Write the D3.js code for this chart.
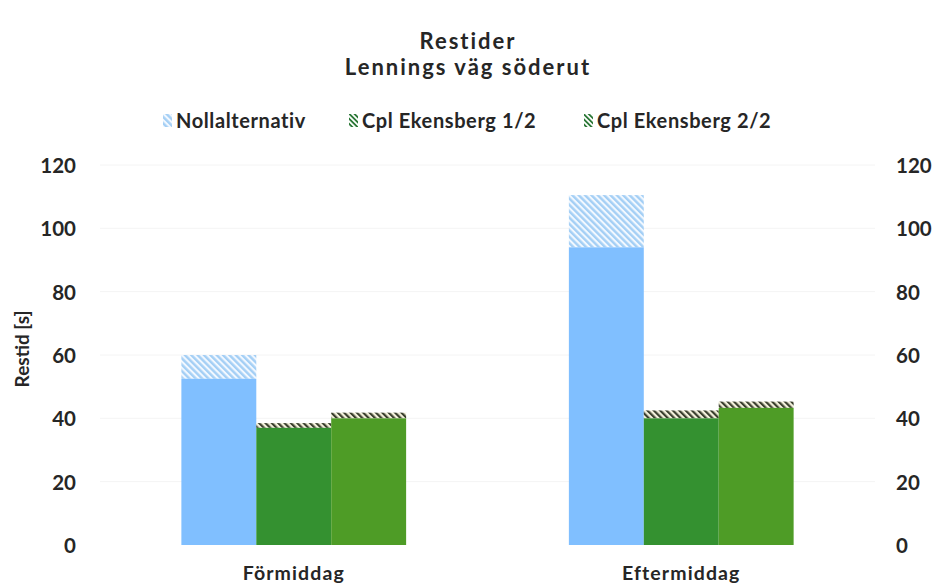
<!DOCTYPE html>
<html><head><meta charset="utf-8">
<script src="https://cdn.jsdelivr.net/npm/d3@7"></script>
<style>body{margin:0;background:#fff;} text{font-family:Lato,"Open Sans",sans-serif;font-weight:700;fill:#262626;}</style>
</head><body>
<svg id="c" width="936" height="587"></svg>
<script>
const categories = ["Förmiddag", "Eftermiddag"];
const seriesNames = ["Nollalternativ", "Cpl Ekensberg 1/2", "Cpl Ekensberg 2/2"];
const baseValues = [[52.5, 94], [37, 40], [40, 43.3]];
const totalValues = [[60, 110.5], [38.5, 42.5], [41.8, 45.3]];
const yTicks = [0, 20, 40, 60, 80, 100, 120];
const colors = ["#80bfff", "#349130", "#4e9c26"];

const svg = d3.select("#c");
const y = d3.scaleLinear().domain([0, 120]).range([545, 165]);
const x0 = d3.scaleBand().domain(categories).range([100, 875]);
const bw = x0.bandwidth();
const x1 = d3.scaleBand().domain(seriesNames).range([bw*0.21, bw*0.79]);

const defs = svg.append("defs");
function hatch(id, fg, bg, sw, sz){
  const p = defs.append("pattern").attr("id", id).attr("patternUnits","userSpaceOnUse")
    .attr("width", sz).attr("height", sz).attr("patternTransform","rotate(-45)");
  p.append("rect").attr("width",sz).attr("height",sz).attr("fill",bg);
  p.append("rect").attr("x",0).attr("y",0).attr("width",sw).attr("height",sz).attr("fill",fg);
}
hatch("h0", "#a4cff5", "#f2f8ff", 2.4, 4.5);
hatch("h1", "#3a3f2e", "#f4f1dc", 2.2, 4.5);
hatch("h2", "#3a3f2e", "#f4f1dc", 2.2, 4.5);
hatch("hl", "#2f7a3a", "#ffffff", 1.8, 3.6);

// gridlines
svg.append("g").selectAll("line").data(yTicks.slice(1)).join("line")
  .attr("x1",100).attr("x2",875).attr("y1",d=>y(d)).attr("y2",d=>y(d))
  .attr("stroke","#f4f4f4").attr("stroke-width",1);

// axes
const la = svg.append("g").attr("transform","translate(76,0)")
  .call(d3.axisLeft(y).tickValues(yTicks).tickSize(0).tickPadding(0));
la.select(".domain").remove();
la.selectAll("text").style("font-size","20.5px").attr("dy","0.36em");
const ra = svg.append("g").attr("transform","translate(896,0)")
  .call(d3.axisRight(y).tickValues(yTicks).tickSize(0).tickPadding(0));
ra.select(".domain").remove();
ra.selectAll("text").style("font-size","20.5px").attr("dy","0.36em");

// bars
const g = svg.append("g");
categories.forEach((c, ci) => {
  seriesNames.forEach((s, si) => {
    const xx = x0(c) + x1(s);
    g.append("rect").attr("x", xx).attr("width", x1.bandwidth())
      .attr("y", y(totalValues[si][ci])).attr("height", y(baseValues[si][ci]) - y(totalValues[si][ci]))
      .attr("fill", `url(#h${si})`);
    g.append("rect").attr("x", xx).attr("width", x1.bandwidth())
      .attr("y", y(baseValues[si][ci])).attr("height", y(0) - y(baseValues[si][ci]))
      .attr("fill", colors[si]);
  });
});

// category labels
svg.append("g").selectAll("text").data(categories).join("text")
  .attr("x", d => x0(d) + bw/2).attr("y", 580).attr("text-anchor","middle")
  .style("font-size","19.5px").style("letter-spacing","1.1px").text(d => d);

// y title
svg.append("text").attr("transform","translate(29,349) rotate(-90)").attr("text-anchor","middle")
  .style("font-size","19px").text("Restid [s]");

// title
svg.append("text").attr("x",468).attr("y",48.5).attr("text-anchor","middle").style("font-size","22px").style("letter-spacing","2px").text("Restider");
svg.append("text").attr("x",468).attr("y",75).attr("text-anchor","middle").style("font-size","22px").style("letter-spacing","2px").text("Lennings väg söderut");

// legend
const legX = [163, 349, 584];
const leg = svg.append("g");
seriesNames.forEach((s, i) => {
  leg.append("rect").attr("x", legX[i]).attr("y", 114).attr("width", 9).attr("height", 13)
    .attr("fill", i===0 ? "url(#h0)" : "url(#hl)");
  leg.append("text").attr("x", legX[i] + 13).attr("y", 128).style("font-size","20px").style("letter-spacing","0.6px").text(s);
});
</script>
</body></html>
